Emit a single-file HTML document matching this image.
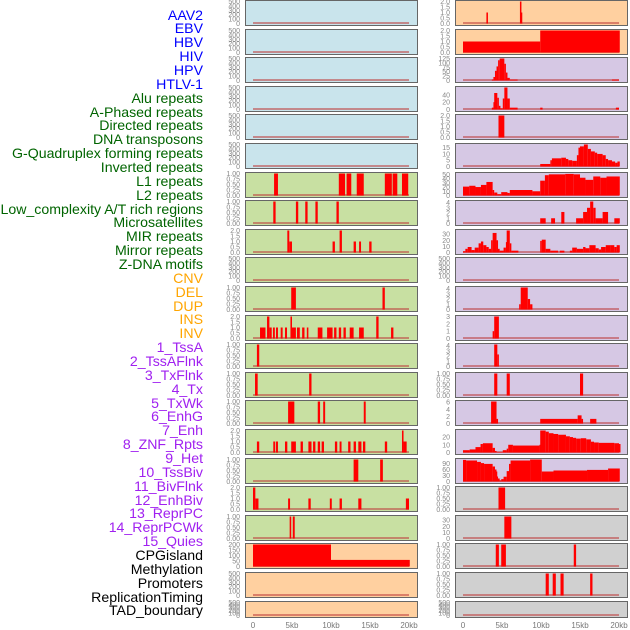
<!DOCTYPE html>
<html><head><meta charset="utf-8"><style>
body{margin:0;background:#fff;}
#c{position:relative;width:630px;height:630px;overflow:hidden;font-family:"Liberation Sans",sans-serif;}
.lab{position:absolute;right:427px;font-size:14.15px;line-height:14px;white-space:nowrap;}
</style></head><body>
<div id="c">
<svg id="s" width="630" height="630"></svg>
</div>
<script>
const trackNames = ["AAV2","EBV","HBV","HIV","HPV","HTLV-1","Alu repeats","A-Phased repeats","Directed repeats","DNA transposons","G-Quadruplex forming repeats","Inverted repeats","L1 repeats","L2 repeats","Low_complexity A/T rich regions","Microsatellites","MIR repeats","Mirror repeats","Z-DNA motifs","CNV","DEL","DUP","INS","INV","1_TssA","2_TssAFlnk","3_TxFlnk","4_Tx","5_TxWk","6_EnhG","7_Enh","8_ZNF_Rpts","9_Het","10_TssBiv","11_BivFlnk","12_EnhBiv","13_ReprPC","14_ReprPCWk","15_Quies","CPGisland","Methylation","Promoters","ReplicationTiming","TAD_boundary"];
const trackColors = [6,"#0000ff",13,"#006400",5,"#ffa500",15,"#a020f0",5,"#000000"];
const xTicks = [0,5,10,15,20];
const xTickLabels = ["0","5kb","10kb","15kb","20kb"];
const leftFill = ["#c9e4ec","#c9e4ec","#c9e4ec","#c9e4ec","#c9e4ec","#c9e4ec","#c8e0a2","#c8e0a2","#c8e0a2","#c8e0a2","#c8e0a2","#c8e0a2","#c8e0a2","#c8e0a2","#c8e0a2","#c8e0a2","#c8e0a2","#c8e0a2","#c8e0a2","#ffd0a0","#ffd0a0","#ffd0a0"];
const rightFill = ["#ffd0a0","#ffd0a0","#d6c8e4","#d6c8e4","#d6c8e4","#d6c8e4","#d6c8e4","#d6c8e4","#d6c8e4","#d6c8e4","#d6c8e4","#d6c8e4","#d6c8e4","#d6c8e4","#d6c8e4","#d6c8e4","#d6c8e4","#d0d0d0","#d0d0d0","#d0d0d0","#d0d0d0","#d0d0d0"];
const T5=["0","100","200","300","400","500"], T1=["0.00","0.25","0.50","0.75","1.00"], T2=["0.0","0.5","1.0","1.5","2.0"];
const leftTicks = [T5,T5,T5,T5,T5,T5,T1,T1,T2,T5,T1,T2,T1,T1,T1,T2,T1,T2,T1,["0","50","100","150","200"],T5,T5];
const leftMax = [500,500,500,500,500,500,1,1,2,500,1,2,1,1,1,2,1,2,1,200,500,500];
const leftBars = [[],[],[],[],[],[],
[[2.7,3.2,1],[11.0,11.8,1],[12.0,12.6,1],[13.3,14.2,1],[16.9,17.8,1],[17.9,18.5,1],[19.1,19.9,1]],
[[2.6,2.9,1],[5.5,5.8,1],[6.7,7.0,1],[8.0,8.3,1],[10.7,11.0,1]],
[[4.4,4.65,2],[4.65,5.0,1],[10.2,10.5,1],[11.1,11.4,2],[12.9,13.2,1],[13.6,13.85,1],[14.9,15.2,1]],
[],
[[4.9,5.5,1],[16.6,16.9,1]],
[[0.9,1.6,1],[1.8,2.1,2],[2.1,2.4,1],[2.56,2.8,1],[2.95,3.2,1],[3.55,3.8,1],[4.1,4.36,1],[4.8,5.0,2],[5.0,5.5,1],[5.64,6.0,1],[6.3,6.6,1],[6.9,7.1,1],[8.3,8.9,1],[9.5,10.2,1],[10.4,10.7,1],[11.0,11.3,1],[11.6,11.9,1],[12.4,12.9,1],[13.6,14.2,1],[15.8,16.1,2],[17.7,18.0,1]],
[[0.5,0.8,1]],
[[0.26,0.6,1],[7.2,7.5,1]],
[[4.5,5.3,1],[8.3,8.6,1],[9.0,9.25,1],[14.2,14.45,1]],
[[0.5,0.8,1],[2.6,2.85,1],[2.95,3.2,1],[4.1,4.4,1],[4.9,5.5,1],[6.1,6.4,1],[7.1,7.5,1],[7.7,8.0,1],[8.3,8.6,1],[8.8,9.1,1],[10.5,10.8,1],[11.1,11.35,1],[12.2,12.5,1],[12.9,13.2,1],[13.5,13.9,1],[14.1,14.4,1],[16.9,17.2,1],[19.1,19.3,2],[19.3,19.7,1]],
[[12.9,13.5,1],[16.3,16.65,1]],
[[0.0,0.3,2],[0.3,0.7,1],[4.5,4.75,1],[7.1,7.4,1],[9.85,10.1,1],[11.1,11.4,1],[13.5,13.9,1],[19.6,20.0,1]],
[[4.7,4.9,1],[5.1,5.35,1]],
[[0,10,200],[10,20.1,60]],
[],[]];
const R4=["0","1","2","3","4"];
const rightTicks = [T2,T2,["0","25","50","75","100","125"],["0","20","40"],T2,["0","5","10","15"],["0","10","20","30","40","50"],R4,["0","10","20","30"],T5,R4,["0","1","2","3"],R4,T1,["0","2","4","6"],["0","10","20"],["0","30","60","90"],T1,["0","10","20","30"],T1,T1,T5];
const rightMax = [2,2,125,60,2,17.5,52,4.2,36,500,4.2,3,4.2,1,6.2,28.5,110,1,36,1,1,500];
const rightBars = [
[[3.0,3.2,1],[7.3,7.4,2],[7.4,7.6,1]],
[[0,9.9,1],[9.9,20.1,2]],
[[3.7,3.9,5],[3.9,4.1,20],[4.1,4.3,55],[4.3,4.5,80],[4.5,4.7,115],[4.7,5.3,125],[5.3,5.5,95],[5.5,5.7,45],[5.7,6.0,15],[6.0,7.0,5],[19.1,20,5]],
[[3.7,3.9,5],[3.9,4.0,20],[4.0,4.4,45],[4.4,4.6,32],[4.6,4.8,10],[4.8,5.1,3],[5.1,5.3,30],[5.3,5.7,60],[5.7,6.0,30],[6.0,7.0,5],[9.9,10.2,5],[19.6,20,5]],
[[4.55,5.3,2]],
[[9.9,11.2,2],[11.2,11.4,5],[11.4,12.6,6.5],[12.6,13.2,7],[13.2,13.5,6],[13.5,14.0,5],[14.0,14.6,4.5],[14.6,14.8,9],[14.8,15.0,15],[15.0,15.5,16],[15.5,16.0,17.5],[16.0,16.4,14],[16.4,16.9,12],[16.9,17.2,11],[17.2,17.9,10],[17.9,18.3,9],[18.3,18.6,6],[18.6,19.1,5],[19.1,19.5,4],[19.5,19.8,3],[19.8,20.1,4]],
[[0,0.8,21],[0.8,1.6,23],[1.6,2.3,20],[2.3,3.0,25],[3.0,3.8,32],[3.8,4.0,13],[4.0,4.4,7],[4.4,4.9,3],[4.9,5.7,8],[5.7,6.0,6],[6.0,8.9,13],[8.9,9.9,10],[9.9,10.5,35],[10.5,11.0,48],[11.0,13.1,50],[13.1,14.2,51],[14.2,15.0,50],[15.0,15.7,42],[15.7,16.7,37],[16.7,17.6,45],[17.6,18.4,42],[18.4,20.1,45]],
[[9.9,10.6,1],[11.3,11.8,1],[12.6,13.0,2.2],[14.5,15.4,1],[15.4,15.9,2.2],[15.9,16.3,3],[16.3,16.7,4.2],[16.7,17.0,3],[17.0,17.9,1],[17.9,18.6,2.2],[19.4,20.1,1]],
[[0,0.3,2],[0.3,0.6,6],[0.6,1.1,9],[1.1,1.5,4],[1.5,2.0,8],[2.0,2.3,15],[2.3,2.6,18],[2.6,3.0,12],[3.0,3.3,9],[3.3,3.6,6],[3.6,3.8,20],[3.8,4.3,32],[4.3,4.4,20],[4.4,4.7,6],[4.7,5.2,3],[5.2,5.5,8],[5.5,5.6,17],[5.6,6.0,36],[6.0,6.2,15],[6.2,7.1,3],[9.9,10.1,19],[10.1,10.6,21],[10.6,11.2,6],[11.2,12.2,3],[12.4,13.0,3],[13.7,14.0,3],[14.0,14.6,8],[14.6,15.4,6],[15.4,15.7,9],[15.7,16.2,7],[16.2,17.0,12],[17.0,17.4,7],[17.4,17.7,5],[17.7,18.3,9],[18.3,18.9,12],[18.9,19.4,12],[19.4,19.7,9],[19.7,20.1,12]],
[],
[[7.2,7.4,1],[7.4,8.3,4.2],[8.3,8.6,2],[8.6,8.9,1]],
[[3.8,4.0,1],[4.0,4.6,3]],
[[4.0,4.4,4.2],[4.4,4.6,2.3]],
[[4.0,4.4,1],[5.6,6.0,1],[15.0,15.4,1]],
[[3.6,4.3,6.2],[4.3,4.4,1.3],[9.9,14.7,1.3],[14.7,15.2,2.3],[15.2,15.3,1.3],[16.3,17.1,1.3]],
[[0,0.85,3],[0.85,1.6,4],[1.6,2.25,7],[2.25,2.55,11],[2.55,3.8,12],[3.8,4.1,6],[4.1,4.3,2],[4.3,5.1,0.5],[5.1,5.6,3],[5.6,5.8,5],[5.8,6.4,10],[6.4,9.8,9],[9.8,9.9,10],[9.9,10.6,28.5],[10.6,11.0,27],[11.0,11.6,25],[11.6,12.2,24],[12.2,13.2,23],[13.2,13.7,21],[13.7,14.1,20],[14.1,14.5,19],[14.5,15.1,18],[15.1,15.8,18.5],[15.8,16.4,17],[16.4,16.8,14],[16.8,17.4,13],[17.4,19.4,12.5],[19.4,20.0,12],[20.0,20.1,11]],
[[0,0.4,108],[0.4,1.8,105],[1.8,2.3,98],[2.3,2.7,92],[2.7,3.8,88],[3.8,4.1,75],[4.1,4.2,60],[4.2,4.3,50],[4.3,4.4,25],[4.4,4.7,15],[4.7,4.9,5],[4.9,5.2,12],[5.2,5.6,24],[5.6,5.9,52],[5.9,6.1,88],[6.1,8.6,105],[8.6,10.1,110],[10.1,11.6,50],[11.6,15.9,55],[15.9,18.6,58],[18.6,20.1,65]],
[[4.55,5.4,1]],
[[5.3,6.2,36]],
[[4.2,4.6,1],[4.9,5.5,1],[14.2,14.5,1]],
[[10.6,11.0,1],[11.5,11.9,1],[12.5,12.9,1],[16.3,16.6,1]],
[]];

const NS="http://www.w3.org/2000/svg";
const svg=document.getElementById('s');
function mk(tag,attrs,parent){const e=document.createElementNS(NS,tag);for(const k in attrs)e.setAttribute(k,attrs[k]);(parent||svg).appendChild(e);return e;}
function rowTop(i){return i===21?601:Math.round(i*28.6);}
function rowH(i){return i===21?16:25;}
function xScale(side,kb){return (side===0?253:463)+kb*7.8;}
function drawPanel(side,i,fill,ticks,ymax,bars){
  const px=side===0?245:455, pw=172, top=rowTop(i), h=rowH(i);
  const bottom=top+h-1.5, span=h-3;
  const yS=v=>bottom-(v/ymax)*span;
  const g=mk('g',{});
  
  
  const bg=mk('rect',{x:px+0.5,y:top+0.5,width:pw,height:h,fill:fill,stroke:'#666','stroke-width':1},g);
  
  
  const base=mk('rect',{x:xScale(side,0),y:bottom-1.5,width:xScale(side,20)-xScale(side,0),height:2,fill:'rgba(190,60,60,0.55)'},g);
  
  
  bars.forEach(b=>{
    const x0=xScale(side,b[0]),x1=xScale(side,b[1]);
    const r=mk('rect',{x:x0,y:yS(b[2]),width:Math.max(1.5,x1-x0),height:bottom-yS(b[2]),fill:'#ff0000'},g);
    
    
  });
  ticks.forEach(t=>{
    const v=parseFloat(t);
    const tx=mk('text',{x:px-5,y:yS(v)+2.5,'font-size':7,fill:'#888','text-anchor':'end'},g);
    
    
    tx.textContent=t;
  });
}
for(let i=0;i<22;i++){
  drawPanel(0,i,leftFill[i],leftTicks[i],leftMax[i],leftBars[i]);
  drawPanel(1,i,rightFill[i],rightTicks[i],rightMax[i],rightBars[i]);
}
[0,1].forEach(side=>{
  xTicks.forEach((k,j)=>{
    const t=mk('text',{x:xScale(side,k),y:628,'font-size':8,fill:'#777','text-anchor':'middle'});
    
    
    t.textContent=xTickLabels[j];
  });
});
const c=document.getElementById('c');
let idx=0;
for(let g=0;g<trackColors.length;g+=2){
  for(let k=0;k<trackColors[g];k++){
    const d=document.createElement('div');
    d.className='lab';
    d.style.top=(15+idx*13.86-7.5)+'px';
    d.style.color=trackColors[g+1];
    d.textContent=trackNames[idx];
    
    
    c.appendChild(d);
    idx++;
  }
}
</script>
</body></html>
